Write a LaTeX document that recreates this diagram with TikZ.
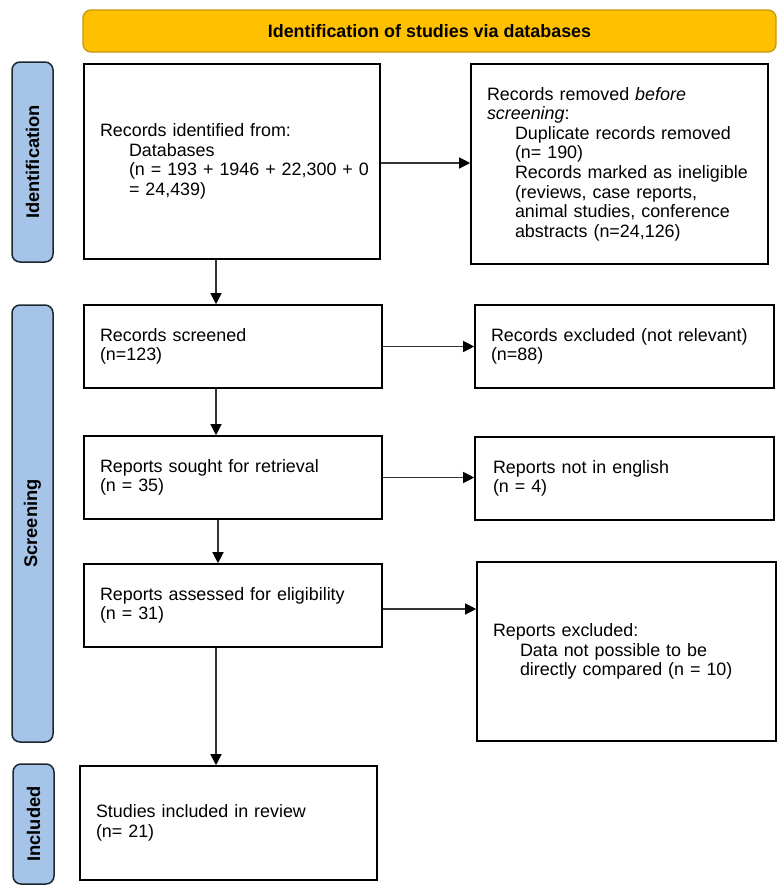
\documentclass[tikz,border=0pt]{standalone}
\usepackage{fontspec}
\setmainfont{Liberation Sans}
\usetikzlibrary{arrows.meta}
\definecolor{bannerfill}{HTML}{FFC000}
\definecolor{bannerdraw}{HTML}{C8980F}
\definecolor{sidefill}{HTML}{A5C4E8}
\definecolor{sidedraw}{HTML}{1E2630}
\definecolor{arrcol}{HTML}{333333}
\begin{document}
\begin{tikzpicture}[x=1pt,y=-1pt,
  every node/.style={font=\fontsize{17.9}{19.6}\selectfont},
  banner/.style={draw=bannerdraw,fill=bannerfill,line width=1.4pt,rounded corners=8pt,
    minimum width=693pt,minimum height=42pt,inner sep=0pt,font=\fontsize{17.9}{19.6}\selectfont\bfseries},
  side/.style={draw=sidedraw,fill=sidefill,line width=1.5pt,rounded corners=8pt,rotate=90,
    minimum height=41pt,inner sep=0pt,font=\fontsize{18.3}{20}\selectfont\bfseries},
  box/.style={draw=black,line width=1.6pt,inner xsep=16pt,inner ysep=0pt,align=left},
  arr/.style={draw=arrcol,line width=1.2pt,-{Triangle[length=11pt,width=11pt,color=black]}}
]
\useasboundingbox (0,0) rectangle (780,889);

\node[banner] (top) at (429.5,31) {Identification of studies via databases};

\node[side,minimum width=200pt] (sid) at (32.5,162) {Identification};
\node[side,minimum width=437pt] (ssc) at (32.5,523.5) {Screening};
\node[side,minimum width=120pt] (sin) at (33.5,824) {Included};

\node[box,minimum width=296pt,minimum height=195pt,text width=264pt] (b1) at (232,161.5)
 {Records identified from:\\
  \hspace*{29pt}\mbox{Databases}\\
  \hspace*{29pt}\mbox{(n = 193 + 1946 + 22,300 + 0}\\
  \hspace*{29pt}\mbox{= 24,439)}};

\node[box,minimum width=297pt,minimum height=200pt,text width=265pt] (b2) at (619.5,164)
 {Records removed \textit{before}\\
  \textit{screening}:\\
  \hspace*{28pt}\mbox{Duplicate records removed}\\
  \hspace*{28pt}\mbox{(n= 190)}\\
  \hspace*{28pt}\mbox{Records marked as ineligible}\\
  \hspace*{28pt}\mbox{(reviews, case reports,}\\
  \hspace*{28pt}\mbox{animal studies, conference}\\
  \hspace*{28pt}\mbox{abstracts (n=24,126)}};

\node[box,minimum width=298pt,minimum height=83pt,text width=266pt] (b3) at (233,346.5)
 {Records screened\\(n=123)};
\node[box,minimum width=299pt,minimum height=83pt,text width=267pt] (b4) at (624.5,346.5)
 {\mbox{Records excluded (not relevant)}\\(n=88)};

\node[box,minimum width=298pt,minimum height=83pt,text width=266pt] (b5) at (233,477.5)
 {Reports sought for retrieval\\(n = 35)};
\node[box,minimum width=299pt,minimum height=83pt,text width=263pt,inner xsep=18pt] (b6) at (624.5,478.5)
 {Reports not in english\\(n = 4)};

\node[box,minimum width=298pt,minimum height=83pt,text width=266pt] (b7) at (233,605.5)
 {Reports assessed for eligibility\\(n = 31)};
\node[box,minimum width=299pt,minimum height=179pt,text width=267pt] (b8) at (626.5,651.5)
 {Reports excluded:\\
  \hspace*{27pt}\mbox{Data not possible to be}\\
  \hspace*{27pt}\mbox{directly compared (n = 10)}};

\node[box,minimum width=297pt,minimum height=114pt,text width=265pt] (b9) at (228.5,823)
 {Studies included in review\\(n= 21)};

\coordinate (spine) at (216,0);
\coordinate (spineb) at (218,0);

\draw[arr] (b1.east |- 0,163) -- (b2.west |- 0,163);
\draw[arr] (b3.east) -- (b4.west |- b3.east);
\draw[arr] (b5.east) -- (b6.west |- b5.east);
\draw[arr] (b7.east |- 0,609) -- (b8.west |- 0,609);

\draw[arr] (b1.south -| spine) -- (b3.north -| spine);
\draw[arr] (b3.south -| spine) -- (b5.north -| spine);
\draw[arr] (b5.south -| spineb) -- (b7.north -| spineb);
\draw[arr] (b7.south -| spine) -- (b9.north -| spine);
\end{tikzpicture}
\end{document}
